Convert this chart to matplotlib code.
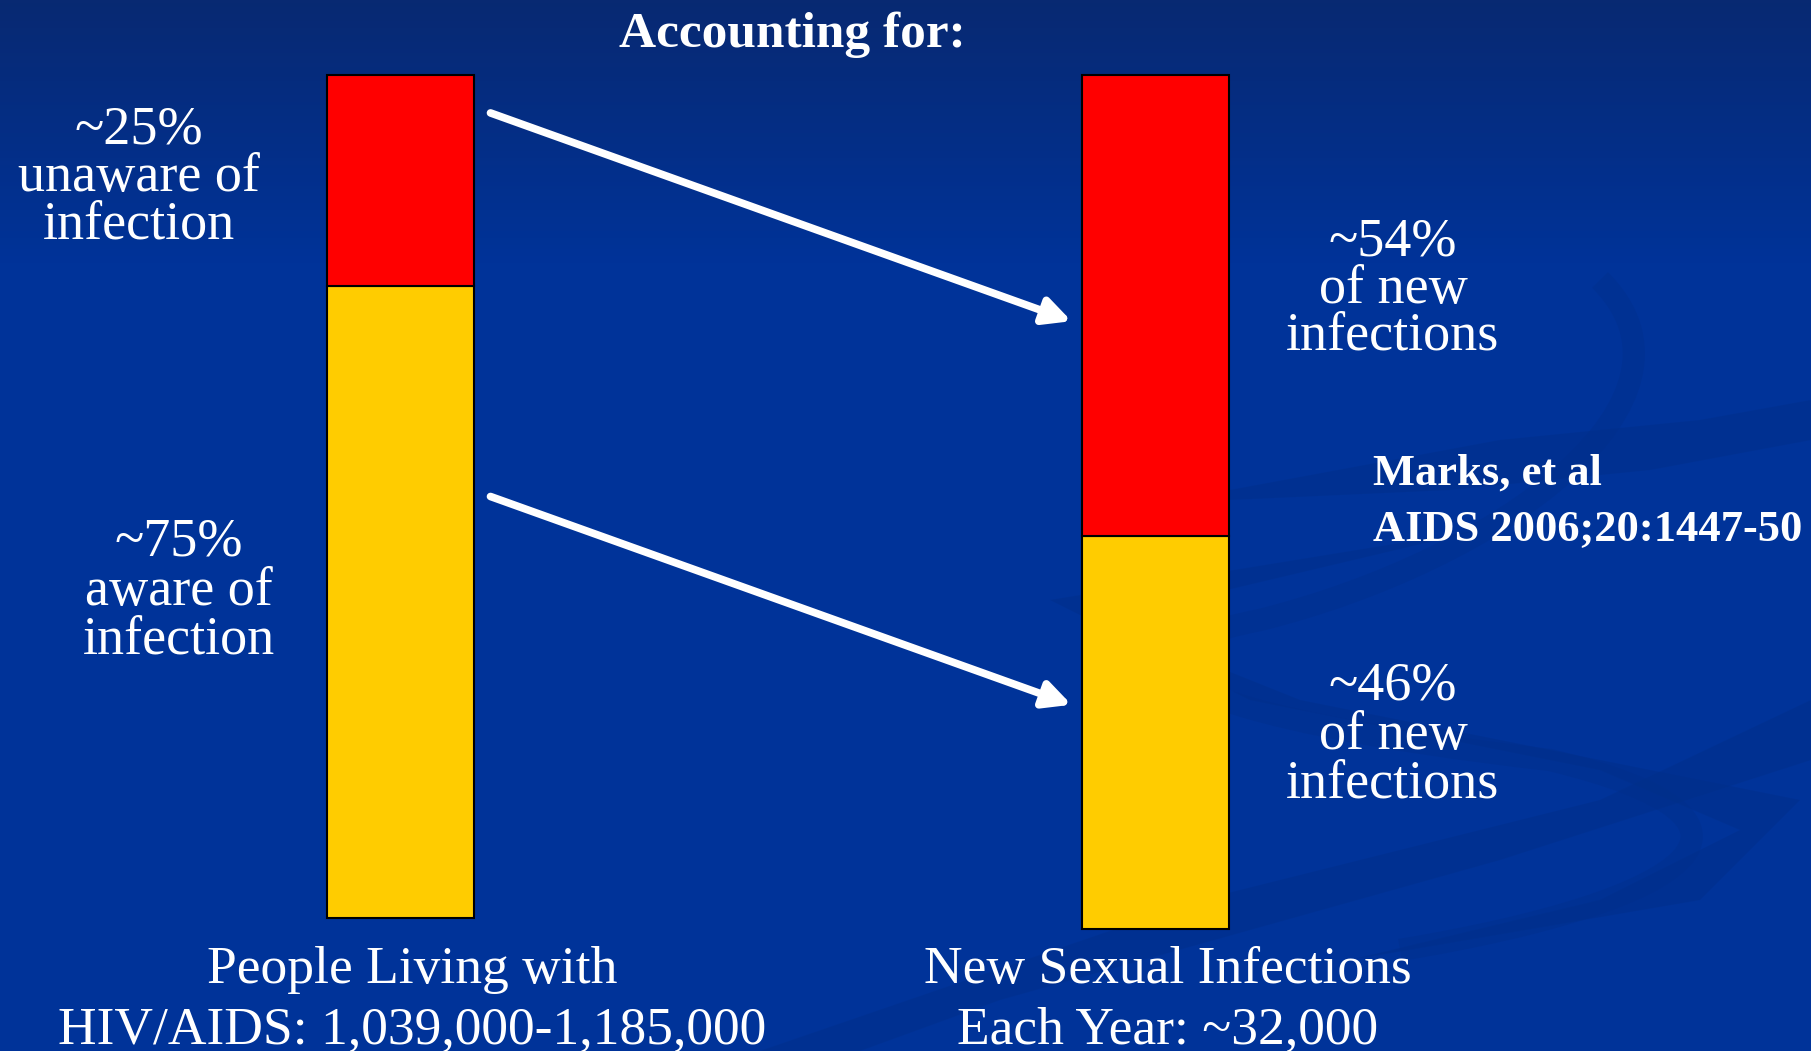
import numpy as np
import matplotlib.pyplot as plt
from matplotlib.path import Path
from matplotlib.patches import PathPatch

W, H = 1811, 1051

# data
bar_names = ['People Living with\nHIV/AIDS: 1,039,000-1,185,000',
             'New Sexual Infections\nEach Year: ~32,000']
unaware_pct = [25, 54]
aware_pct = [75, 46]
bar_bottoms = [0, -1.3]
left_labels = ['~25%\nunaware of\ninfection', '~75%\naware of\ninfection']
right_labels = ['~54%\nof new\ninfections', '~46%\nof new\ninfections']
title = 'Accounting for:'
source = 'Marks, et al\nAIDS 2006;20:1447-50'

RED = '#ff0000'
YELLOW = '#ffcc00'
FONT = 'Liberation Serif'

fig = plt.figure(figsize=(W / 100, H / 100), dpi=100)

# background: blue slide with darker top and faint swooshes
bg = fig.add_axes([0, 0, 1, 1], zorder=0)
bg.set_xlim(0, W)
bg.set_ylim(H, 0)
bg.axis('off')
top = np.array([0x08, 0x29, 0x72]) / 255
mid = np.array([0x00, 0x33, 0x99]) / 255
t = np.clip(np.linspace(0, 1, 300) / 0.25, 0, 1)[:, None]
grad = top * (1 - t) + mid * t
bg.imshow(np.repeat(grad[:, None, :], 2, axis=1), extent=(0, W, H, 0), aspect='auto')

swoosh = '#002f8a'
paths = [
    [(760, 1051), (1200, 900), (1600, 800), (1811, 700), (1811, 760), (1500, 860), (1000, 1000), (860, 1051), (760, 1051)],
    [(1230, 490), (1500, 440), (1700, 420), (1811, 400), (1811, 440), (1650, 470), (1450, 490), (1230, 500), (1230, 490)],
    [(1480, 530), (1100, 620), (1300, 700), (1600, 760), (1800, 800), (1700, 900), (1350, 960), (1600, 900), (1740, 830), (1600, 770), (1250, 700), (1050, 600), (1480, 530)],
]
for p in paths:
    codes = [Path.MOVETO] + [Path.LINETO] * (len(p) - 2) + [Path.CLOSEPOLY]
    bg.add_patch(PathPatch(Path(p, codes), facecolor=swoosh, edgecolor='none', alpha=0.5))
# right-side S curve
s = Path([(1600, 280), (1720, 400), (1500, 560), (1260, 620), (1060, 660), (1200, 720), (1550, 760),
          (1800, 820), (1700, 900), (1400, 950)],
         [Path.MOVETO, Path.CURVE4, Path.CURVE4, Path.CURVE4, Path.CURVE4, Path.CURVE4, Path.CURVE4,
          Path.CURVE4, Path.CURVE4, Path.CURVE4])
bg.add_patch(PathPatch(s, facecolor='none', edgecolor=swoosh, lw=16, alpha=0.4))

# bars
ax = fig.add_axes([0, (H - 918) / H, 1, (918 - 75) / H], zorder=2)
ax.set_xlim(-400 / 755, (W - 400) / 755)
ax.set_ylim(0, 100)
ax.patch.set_alpha(0)
ax.axis('off')
x = np.arange(len(bar_names))
width = 147 / 755
bottoms = np.array(bar_bottoms)
aware_h = np.array(aware_pct) / 100 * (100 - bottoms)
unaware_h = np.array(unaware_pct) / 100 * (100 - bottoms)
ax.bar(x, aware_h, width, bottom=bottoms, color=YELLOW, edgecolor='black', linewidth=1.5, clip_on=False)
ax.bar(x, unaware_h, width, bottom=bottoms + aware_h, color=RED, edgecolor='black', linewidth=1.5, clip_on=False)

# arrows from the left bar to the right bar
gap_l = (490 - 473) / 755
gap_r = (1081 - 1071) / 755
arrow_y = [(95.5, 70.8), (50.0, 25.3)]
for y0, y1 in arrow_y:
    ax.annotate('', xy=(1 - width / 2 - gap_r, y1), xytext=(width / 2 + gap_l, y0),
                arrowprops=dict(arrowstyle='-|>,head_length=1.6,head_width=0.8',
                                color='white', lw=5.5, shrinkA=0, shrinkB=0))


def put_lines(text, x, y0, dy, size, weight='normal', ha='center'):
    for i, line in enumerate(text.split('\n')):
        fig.text(x / W, 1 - (y0 + i * dy) / H, line, ha=ha, va='baseline',
                 color='white', fontsize=size, fontweight=weight, family=FONT, zorder=5)


put_lines(title, 792, 47, 0, 37, weight='bold')
put_lines(left_labels[0], 139, 143, 47.5, 39)
put_lines(left_labels[1], 179, 556, 48.5, 39)
put_lines(right_labels[0], 1393, 255, 47.5, 39)
put_lines(right_labels[1], 1393, 700, 49, 39)
put_lines(source, 1373, 485, 55, 32, weight='bold', ha='left')
put_lines(bar_names[0], 412, 983, 60, 38.5)
put_lines(bar_names[1], 1168, 983, 60, 38.5)

fig.savefig('out.png', dpi=100)
